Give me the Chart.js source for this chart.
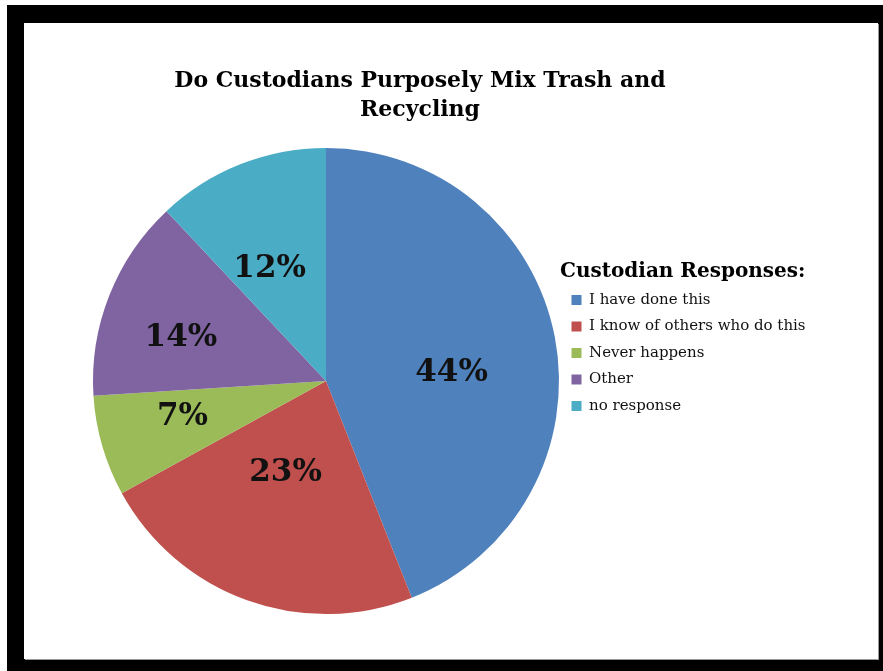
<!DOCTYPE html>
<html>
<head>
<meta charset="utf-8">
<title>Custodian Responses</title>
<script src="https://cdn.jsdelivr.net/npm/chart.js"></script>
<style>
  html, body { margin: 0; background: #fff; }
  #frame { position: absolute; left: 7px; top: 5px; width: 876px; height: 666px; background: #000; }
  #box { position: absolute; left: 17px; top: 18px; width: 854px; height: 636px; background: #fff; box-shadow: 1px 1px 0 #9a9a9a; }
  canvas { display: block; }
</style>
</head>
<body>
<div id="frame">
  <div id="box">
    <canvas id="chart" width="854" height="636"></canvas>
  </div>
</div>
<script>
// 回答カテゴリ
const responses = [
  "I have done this",
  "I know of others who do this",
  "Never happens",
  "Other",
  "no response"
];

// 割合（%）
const shares = [44, 23, 7, 14, 12];

// Excel 2007 の標準カラー
const sliceColors = ["#4F81BD", "#C0504D", "#9BBB59", "#8064A2", "#4BACC6"];

// タイトル（2行）
const titleLines = ["Do Custodians Purposely Mix Trash and", "Recycling"];
const legendTitle = "Custodian Responses:";

// ラベル位置の微調整（半径に対する割合 / 角度のずれ）
const labelDepth = [0.54, 0.43, 0.635, 0.65, 0.54];
const labelTurn = [7, 4, 2, -5, -5];

const SERIF = "'DejaVu Serif', 'Liberation Serif', serif";
const LEGEND_FONT = 15;
const LEGEND_PAD = 11.5;
const LEGEND_LEFT = 536;

// 凡例の幅を先に測っておく（凡例の左端をそろえるため）
const probe = document.createElement("canvas").getContext("2d");
probe.font = LEGEND_FONT + "px " + SERIF;
const longest = Math.max(...responses.map(t => probe.measureText(t).width));
const legendWidth = LEGEND_PAD + 10 + LEGEND_FONT / 2 + longest + 10;

// タイトルは凡例と独立して中央寄せしたいので自前で描く
const heading = {
  id: "heading",
  beforeDraw(chart, args, opts) {
    const ctx = chart.ctx;
    ctx.save();
    ctx.font = "bold 22px " + SERIF;
    ctx.fillStyle = "#000";
    ctx.textAlign = "center";
    ctx.textBaseline = "middle";
    titleLines.forEach((t, i) => ctx.fillText(t, opts.x, opts.y + i * opts.lineHeight));
    ctx.restore();
  }
};

// 扇形の中にパーセント表示
const sliceLabels = {
  id: "sliceLabels",
  afterDatasetsDraw(chart) {
    const ctx = chart.ctx;
    const meta = chart.getDatasetMeta(0);
    ctx.save();
    ctx.font = "bold 31px " + SERIF;
    ctx.fillStyle = "#111";
    ctx.textAlign = "center";
    ctx.textBaseline = "middle";
    meta.data.forEach((arc, i) => {
      const p = arc.getProps(["x", "y", "startAngle", "endAngle", "outerRadius"], true);
      const a = (p.startAngle + p.endAngle) / 2 + labelTurn[i] * Math.PI / 180;
      const r = p.outerRadius * labelDepth[i];
      ctx.fillText(shares[i] + "%", p.x + Math.cos(a) * r, p.y + Math.sin(a) * r);
    });
    ctx.restore();
  }
};

new Chart(document.getElementById("chart"), {
  type: "pie",
  data: {
    labels: responses,
    datasets: [{
      data: shares,
      backgroundColor: sliceColors,
      borderWidth: 0
    }]
  },
  options: {
    responsive: false,
    animation: false,
    layout: {
      padding: { left: 68, right: 854 - LEGEND_LEFT - legendWidth, top: 125, bottom: 45 }
    },
    plugins: {
      heading: { x: 396, y: 58.3, lineHeight: 28.6 },
      title: { display: false },
      legend: {
        position: "right",
        align: "start",
        title: {
          display: true,
          text: legendTitle,
          color: "#000",
          position: "start",
          font: { family: SERIF, size: 20, weight: "bold", lineHeight: 1 },
          padding: { top: 114, bottom: -1 }
        },
        labels: {
          color: "#111",
          boxWidth: 10,
          boxHeight: 10,
          padding: LEGEND_PAD,
          font: { family: SERIF, size: LEGEND_FONT }
        }
      },
      tooltip: { enabled: false }
    }
  },
  plugins: [heading, sliceLabels]
});
</script>
</body>
</html>
